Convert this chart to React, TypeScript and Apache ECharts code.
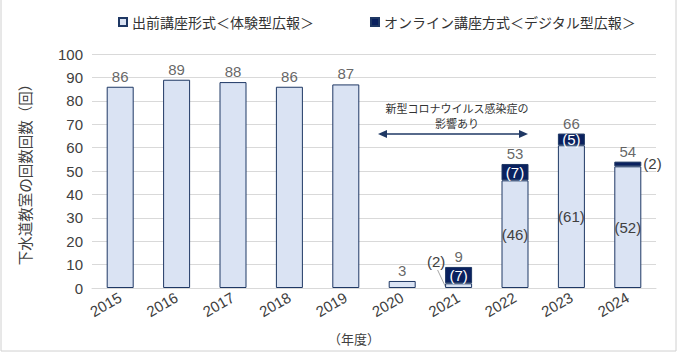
import React, { useEffect, useRef } from "react";
import * as echarts from "echarts";

const years = ["2015", "2016", "2017", "2018", "2019", "2020", "2021", "2022", "2023", "2024"];
const inPerson = [86, 89, 88, 86, 87, 3, 2, 46, 61, 52];
const online: (number | null)[] = [null, null, null, null, null, null, 7, 7, 5, 2];
const totals = [86, 89, 88, 86, 87, 3, 9, 53, 66, 54];
const seriesNames = ["出前講座形式＜体験型広報＞", "オンライン講座方式＜デジタル型広報＞"];
const yAxisName = "下水道教室の回数回数（回）";
const xAxisName = "（年度）";
const noteText = "新型コロナウイルス感染症の\n影響あり";

const LIGHT = "#DAE3F3";
const NAVY = "#1F3864";
const DARK = "#0A215F";
const JP = "'Noto Sans CJK JP', sans-serif";
const NUM = "'Liberation Sans', Arial, sans-serif";

export default function App() {
  const ref = useRef<HTMLDivElement>(null);
  useEffect(() => {
    if (!ref.current) return;
    const chart = echarts.init(ref.current, null, { renderer: "svg" });
    const insideLight = new Set([7, 8, 9]);
    const valLabel = (extra: any) => ({
      show: true,
      formatter: "({c})",
      fontFamily: NUM,
      fontSize: 15,
      color: "#404040",
      ...extra,
    });
    const option: any = {
      animation: false,
      backgroundColor: "#ffffff",
      grid: { left: 92, right: 22, top: 54, bottom: 65 },
      legend: {
        data: seriesNames,
        top: 10,
        left: 113,
        icon: "rect",
        itemWidth: 8,
        itemHeight: 8,
        itemGap: 56,
        textStyle: { fontFamily: JP, fontSize: 14, color: "#333" },
      },
      xAxis: {
        type: "category",
        data: years,
        axisTick: { show: false },
        axisLine: { lineStyle: { color: "#d9d9d9" } },
        axisLabel: { rotate: 30, fontFamily: NUM, fontSize: 15, color: "#404040", margin: 8 },
      },
      yAxis: {
        type: "value",
        min: 0,
        max: 100,
        interval: 10,
        name: yAxisName,
        nameLocation: "middle",
        nameGap: 60,
        nameTextStyle: { fontFamily: JP, fontSize: 14.5, color: "#404040" },
        splitLine: { lineStyle: { color: "#d9d9d9" } },
        axisLabel: { fontFamily: NUM, fontSize: 15, color: "#404040", margin: 9 },
      },
      series: [
        {
          name: seriesNames[0],
          type: "bar",
          stack: "a",
          barWidth: 27,
          itemStyle: { color: LIGHT, borderColor: NAVY, borderWidth: 1 },
          data: inPerson.map((v, i) => {
            if (insideLight.has(i)) {
              return { value: v, label: valLabel({ position: "inside" }) };
            }
            if (i === 6) {
              return {
                value: v,
                label: valLabel({
                  position: [-9, -22],
                  align: "center",
                  verticalAlign: "middle",
                }),
              };
            }
            return v;
          }),
        },
        {
          name: seriesNames[1],
          type: "bar",
          stack: "a",
          barWidth: 27,
          itemStyle: { color: DARK, borderColor: NAVY, borderWidth: 1 },
          data: online.map((v, i) => {
            if (v == null) return "-";
            if (i === 9) {
              return { value: v, label: valLabel({ position: "right", distance: 2 }) };
            }
            return { value: v, label: valLabel({ position: "inside", color: "#ffffff" }) };
          }),
        },
        {
          name: "total",
          type: "scatter",
          symbolSize: 0,
          itemStyle: { color: "transparent" },
          z: 5,
          label: {
            show: true,
            position: "top",
            distance: 3,
            fontFamily: NUM,
            fontSize: 15,
            color: "#404040",
          },
          data: totals,
        },
      ],
    };
    chart.setOption(option);

    const p0 = chart.convertToPixel({ xAxisIndex: 0, yAxisIndex: 0 }, [6, 0]) as number[];
    const ax1 = 378;
    const ax2 = 528;
    const ay = 134;
    const cx = 457;
    chart.setOption({
      graphic: [
        {
          type: "rect",
          shape: { x: 1, y: -2, width: 675, height: 353 },
          style: { fill: "none", stroke: "#d0d0d0", lineWidth: 1 },
          silent: true,
        },
        {
          type: "line",
          shape: { x1: p0[0] - 21, y1: p0[1] - 18, x2: p0[0] - 13, y2: p0[1] - 1 },
          style: { stroke: "#a6a6a6", lineWidth: 1 },
        },
        {
          type: "line",
          shape: { x1: ax1 + 6, y1: ay, x2: ax2 - 6, y2: ay },
          style: { stroke: NAVY, lineWidth: 1.5 },
        },
        {
          type: "polygon",
          shape: { points: [[ax1, ay], [ax1 + 9, ay - 4], [ax1 + 9, ay + 4]] },
          style: { fill: NAVY },
        },
        {
          type: "polygon",
          shape: { points: [[ax2, ay], [ax2 - 9, ay - 4], [ax2 - 9, ay + 4]] },
          style: { fill: NAVY },
        },
        {
          type: "text",
          x: cx,
          y: 100,
          style: {
            text: noteText,
            fontFamily: JP,
            fontSize: 11,
            lineHeight: 15,
            fill: "#333",
            align: "center",
            verticalAlign: "top",
          },
        },
        {
          type: "text",
          x: 354,
          y: 338,
          style: {
            text: xAxisName,
            fontFamily: JP,
            fontSize: 13,
            fill: "#404040",
            align: "center",
            verticalAlign: "middle",
          },
        },
      ],
    });
    return () => chart.dispose();
  }, []);
  return (
    <div
      ref={ref}
      style={{ position: "fixed", left: 0, top: 0, width: 678, height: 353 }}
    />
  );
}
